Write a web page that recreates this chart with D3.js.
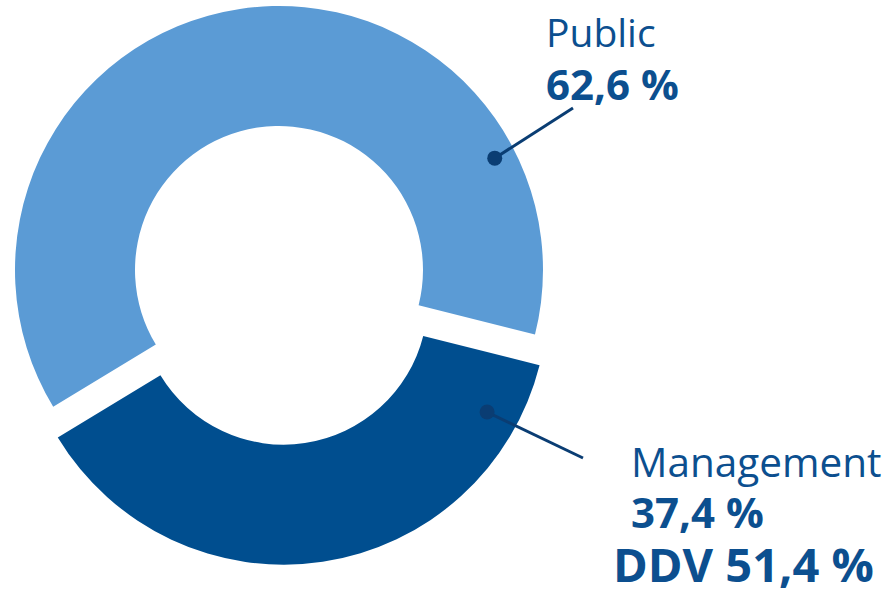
<!DOCTYPE html>
<html>
<head>
<meta charset="utf-8">
<script src="https://cdn.jsdelivr.net/npm/d3@7"></script>
<style>
  body { margin: 0; background: #fff; }
  svg { display: block; font-family: "Open Sans", "Noto Sans", sans-serif; }
</style>
</head>
<body>
<svg width="887" height="591"></svg>
<script>
// data
var categories = ["Public", "Management"];
var shares = [62.6, 37.4];
var shareLabels = ["62,6 %", "37,4 %"];
var extraLabel = "DDV 51,4 %";

var colors = ["#5b9bd5", "#004e8f"];
var textColor = "#0c4f8f";
var leaderColor = "#0a3d73";

var svg = d3.select("svg"),
	width = +svg.attr("width"),
	height = +svg.attr("height");

var cx = 279, cy = 270,
	outerR = 264, innerR = 144,
	explode = [0, 31];

var deg = Math.PI / 180;

var pie = d3.pie()
	.sort(null)
	.value(function (d) { return d; })
	.startAngle(-121.2 * deg)
	.endAngle(238.8 * deg);

var arcs = pie(shares);

var arc = d3.arc().innerRadius(innerR).outerRadius(outerR);

function offset(d, i) {
	var mid = (d.startAngle + d.endAngle) / 2;
	return [Math.sin(mid) * explode[i], -Math.cos(mid) * explode[i]];
}

var g = svg.append("g").attr("transform", "translate(" + cx + "," + cy + ")");

g.selectAll("path")
	.data(arcs)
	.enter().append("path")
	.attr("d", arc)
	.attr("fill", function (d, i) { return colors[i]; })
	.attr("transform", function (d, i) {
		var o = offset(d, i);
		return "translate(" + o[0] + "," + o[1] + ")";
	});

// leader lines: dot on the ring, end near the label
var dotPos = [{ a: 62.6, r: 243 }, { a: 118.7, r: 232 }];
var lineEnd = [[573, 108], [583, 458]];

arcs.forEach(function (d, i) {
	var o = offset(d, i);
	var x = cx + o[0] + Math.sin(dotPos[i].a * deg) * dotPos[i].r,
		y = cy + o[1] - Math.cos(dotPos[i].a * deg) * dotPos[i].r;
	svg.append("line")
		.attr("x1", x).attr("y1", y)
		.attr("x2", lineEnd[i][0]).attr("y2", lineEnd[i][1])
		.attr("stroke", leaderColor)
		.attr("stroke-width", 3);
	svg.append("circle")
		.attr("cx", x).attr("cy", y)
		.attr("r", 7.5)
		.attr("fill", leaderColor);
});

// labels
var labelPos = [
	{ x: 546, name: 47, value: 100, size: 39 },
	{ x: 631, name: 477, value: 528, size: 40.5 }
];

categories.forEach(function (c, i) {
	svg.append("text")
		.attr("x", labelPos[i].x)
		.attr("y", labelPos[i].name)
		.attr("fill", textColor)
		.attr("font-size", labelPos[i].size)
		.text(c);
	svg.append("text")
		.attr("x", labelPos[i].x)
		.attr("y", labelPos[i].value)
		.attr("fill", textColor)
		.attr("font-size", 42)
		.attr("font-weight", "bold")
		.text(shareLabels[i]);
});

svg.append("text")
	.attr("x", 613)
	.attr("y", 582)
	.attr("fill", textColor)
	.attr("font-size", 47)
	.attr("font-weight", "bold")
	.text(extraLabel);
</script>
</body>
</html>
